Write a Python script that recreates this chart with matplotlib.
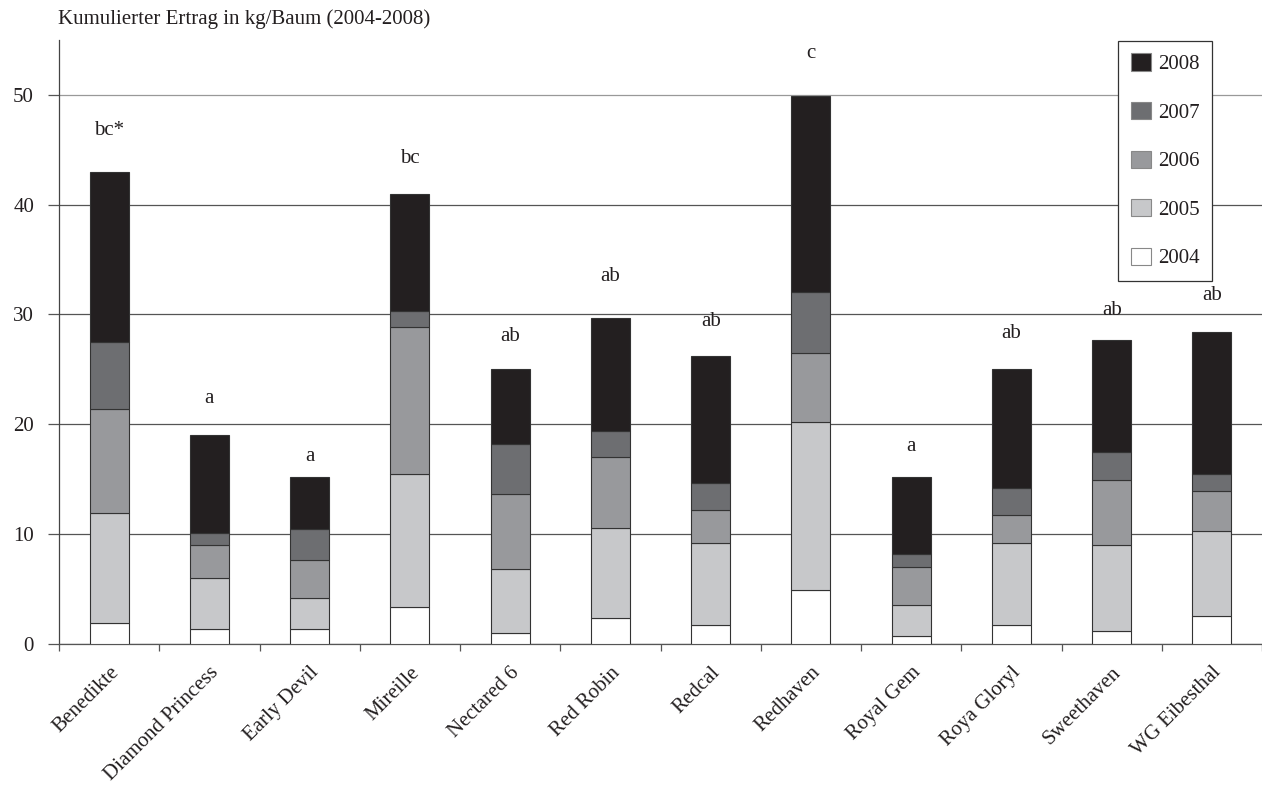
import numpy as np
import matplotlib
matplotlib.use("Agg")
from matplotlib import pyplot as plt
from matplotlib.patches import Patch

plt.rcParams['font.family'] = ['Liberation Serif', 'DejaVu Serif']

# cultivars and years
sorten = ['Benedikte', 'Diamond Princess', 'Early Devil', 'Mireille', 'Nectared 6',
          'Red Robin', 'Redcal', 'Redhaven', 'Royal Gem', 'Roya Gloryl',
          'Sweethaven', 'WG Eibesthal']
jahre = ['2004', '2005', '2006', '2007', '2008']

# cumulative stack tops (kg/Baum)
cum_2004 = [1.9, 1.3, 1.3, 3.3, 1.0, 2.35, 1.7, 4.9, 0.7, 1.7, 1.2, 2.55]
cum_2005 = [11.9, 6.0, 4.2, 15.5, 6.85, 10.5, 9.15, 20.2, 3.5, 9.15, 9.0, 10.3]
cum_2006 = [21.4, 9.0, 7.65, 28.9, 13.65, 17.0, 12.2, 26.5, 7.0, 11.7, 14.9, 13.9]
cum_2007 = [27.5, 10.1, 10.45, 30.3, 18.15, 19.35, 14.65, 32.0, 8.15, 14.15, 17.5, 15.5]
cum_2008 = [43.0, 19.0, 15.2, 41.0, 25.0, 29.7, 26.2, 49.9, 15.2, 25.0, 27.7, 28.4]

# significance letters and their heights
buchstaben = ['bc*', 'a', 'a', 'bc', 'ab', 'ab', 'ab', 'c', 'a', 'ab', 'ab', 'ab']
buchst_y = [46.8, 22.3, 17.1, 44.2, 28.0, 33.5, 29.4, 53.8, 18.0, 28.3, 30.4, 31.7]

farben = ['#ffffff', '#c7c8ca', '#98999c', '#6d6e71', '#231f20']
txt_col = '#231f20'

tops = np.array([cum_2004, cum_2005, cum_2006, cum_2007, cum_2008])
werte = np.diff(np.vstack([np.zeros(len(sorten)), tops]), axis=0)

fig = plt.figure(figsize=(12.62, 7.85), dpi=100)
fig.patch.set_facecolor('white')
ax = fig.add_axes([0.0468, 0.18, 0.9532, 0.769])

x = np.arange(len(sorten))
unten = np.zeros(len(sorten))
for k, jahr in enumerate(jahre):
    ax.bar(x, werte[k], bottom=unten, width=0.39, color=farben[k],
           edgecolor='#333333', linewidth=0.8, label=jahr, zorder=3)
    unten += werte[k]

for i, s in enumerate(buchstaben):
    ax.text(i, buchst_y[i], s, ha='center', va='center', fontsize=15, color=txt_col)

ax.set_ylim(0, 55)
ax.set_xlim(-0.5, 11.37)
ax.set_yticks([0, 10, 20, 30, 40, 50])
ax.grid(axis='y', color='#555555', linewidth=0.9, zorder=0)
ax.get_ygridlines()[-1].set_color('#999999')
ax.set_axisbelow(True)
ax.tick_params(axis='y', direction='out', length=8, width=0.9, color='#555555',
               labelsize=15, labelcolor=txt_col, pad=10)

# x ticks at the boundaries, names at centres
ax.set_xticks(np.arange(-0.5, 12, 1.0))
ax.set_xticklabels([])
ax.tick_params(axis='x', which='major', direction='out', length=5, width=0.9, color='#555555')
ax.set_xticks(x, minor=True)
ax.set_xticklabels(sorten, minor=True, rotation=45, ha='right', va='top',
                   rotation_mode='anchor', fontsize=15, color=txt_col)
ax.tick_params(axis='x', which='minor', length=0, pad=14)

for sp in ['top', 'right']:
    ax.spines[sp].set_visible(False)
ax.spines['left'].set_color('#444444')
ax.spines['bottom'].set_color('#555555')
ax.spines['left'].set_linewidth(0.9)
ax.spines['bottom'].set_linewidth(0.9)

griffe = [Patch(facecolor=farben[k], edgecolor='#888888', linewidth=0.8, label=jahre[k])
          for k in range(4, -1, -1)]
leg = ax.legend(handles=griffe, loc='upper left', bbox_to_anchor=(0.8859, 0.9478),
                bbox_transform=fig.transFigure,
                frameon=True, fancybox=False, fontsize=15, labelspacing=1.33,
                handlelength=0.96, handleheight=0.9, handletextpad=0.35,
                borderpad=0.6, borderaxespad=0)
leg.get_frame().set_edgecolor('#333333')
leg.get_frame().set_linewidth(0.9)
leg.get_frame().set_alpha(1)
for t in leg.get_texts():
    t.set_color(txt_col)

fig.text(0.046, 0.975, 'Kumulierter Ertrag in kg/Baum (2004-2008)', fontsize=15,
         color=txt_col, va='center', ha='left')

fig.savefig('out.png', dpi=100, facecolor='white')
